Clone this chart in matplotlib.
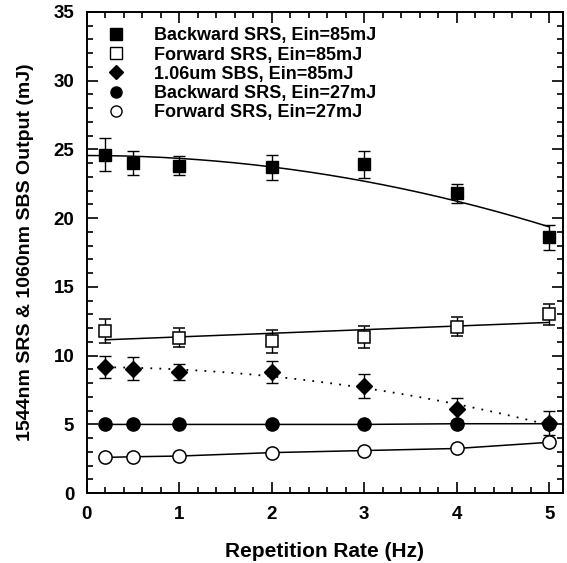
import numpy as np
import matplotlib
matplotlib.use("Agg")
import matplotlib.pyplot as plt
from matplotlib.ticker import MultipleLocator

plt.rcParams['font.family'] = ['Liberation Sans', 'DejaVu Sans']
plt.rcParams['font.weight'] = 'bold'

# repetition rate (Hz)
rate = [0.2, 0.5, 1, 2, 3, 4, 5]

# backward SRS, Ein=85mJ
bsrs85 = [24.6, 24.0, 23.8, 23.7, 23.9, 21.8, 18.6]
bsrs85_err = [1.2, 0.85, 0.7, 0.9, 1.0, 0.7, 0.9]
# forward SRS, Ein=85mJ
fsrs85 = [11.8, 11.3, 11.05, 11.35, 12.1, 13.0]
fsrs85_x = [0.2, 1, 2, 3, 4, 5]
fsrs85_err = [0.9, 0.7, 0.85, 0.8, 0.7, 0.75]
# 1.06um SBS, Ein=85mJ
sbs85 = [9.2, 9.05, 8.8, 8.8, 7.8, 6.1, 5.1]
sbs85_err = [0.8, 0.85, 0.6, 0.8, 0.9, 0.8, 0.9]
# backward SRS, Ein=27mJ
bsrs27 = [5.0, 5.0, 5.0, 5.0, 5.0, 5.05, 5.05]
# forward SRS, Ein=27mJ
fsrs27 = [2.6, 2.65, 2.7, 2.95, 3.1, 3.25, 3.7]

labels = ["Backward SRS, Ein=85mJ", "Forward SRS, Ein=85mJ",
          "1.06um SBS, Ein=85mJ", "Backward SRS, Ein=27mJ",
          "Forward SRS, Ein=27mJ"]


def quad_fit(x, y):
    # least squares fit of y = a + b*x^2
    x = np.asarray(x, float)
    A = np.vstack([np.ones_like(x), x ** 2]).T
    coef, *_ = np.linalg.lstsq(A, np.asarray(y, float), rcond=None)
    return lambda t: coef[0] + coef[1] * t ** 2


fig = plt.figure(figsize=(5.67, 5.63), dpi=100)
ax = fig.add_axes([0.153, 0.124, 0.84, 0.855])

xx = np.linspace(0, 5, 200)
xs = np.linspace(0.2, 5, 200)

# fitted curves
f = quad_fit(rate, bsrs85)
ax.plot(xx, f(xx), color='black', lw=1.1)
p = np.polyfit(fsrs85_x, fsrs85, 1)
ax.plot(xs, np.polyval(p, xs), color='black', lw=1.1)
f = quad_fit(rate, sbs85)
ax.plot(xs, f(xs), color='black', lw=1.3, ls=(0, (1, 4)))
ax.plot(rate, bsrs27, color='black', lw=1.1)
ax.plot(rate, fsrs27, color='black', lw=1.1)

ekw = dict(ecolor='black', elinewidth=1.0, capsize=4, capthick=1.0, ls='none')
ax.errorbar(rate, bsrs85, yerr=bsrs85_err, marker='s', ms=9,
            mfc='black', mec='black', **ekw)
ax.errorbar(fsrs85_x, fsrs85, yerr=fsrs85_err, marker='s', ms=9,
            mfc='white', mec='black', mew=1.1, **ekw)
ax.errorbar(rate, sbs85, yerr=sbs85_err, marker='D', ms=8.5,
            mfc='black', mec='black', **ekw)
ax.plot(rate, bsrs27, ls='none', marker='o', ms=9.5,
        mfc='black', mec='black')
ax.plot(rate, fsrs27, ls='none', marker='o', ms=9.5,
        mfc='white', mec='black', mew=1.1)

lh = [plt.Line2D([], [], ls='none', marker='s', ms=8, mfc='black', mec='black'),
      plt.Line2D([], [], ls='none', marker='s', ms=8, mfc='white', mec='black'),
      plt.Line2D([], [], ls='none', marker='D', ms=7.5, mfc='black', mec='black'),
      plt.Line2D([], [], ls='none', marker='o', ms=8, mfc='black', mec='black'),
      plt.Line2D([], [], ls='none', marker='o', ms=8, mfc='white', mec='black')]
ax.legend(lh, labels, loc='upper left', bbox_to_anchor=(0.0, 0.99),
          frameon=False, fontsize=13, handletextpad=1.1,
          labelspacing=0.12, borderaxespad=0.2)

ax.set_xlim(0, 5.15)
ax.set_ylim(0, 35)
ax.xaxis.set_major_locator(MultipleLocator(1))
ax.xaxis.set_minor_locator(MultipleLocator(0.2))
ax.yaxis.set_major_locator(MultipleLocator(5))
ax.yaxis.set_minor_locator(MultipleLocator(1))
ax.tick_params(which='both', direction='in', top=True, right=True,
               labelsize=13.5, width=1.2)
ax.tick_params(which='major', length=8, pad=9)
ax.tick_params(which='minor', length=4)
for s in ax.spines.values():
    s.set_linewidth(1.4)

ax.set_xlabel("Repetition Rate (Hz)", fontsize=15, fontweight='bold', labelpad=14)
ax.set_ylabel("1544nm SRS & 1060nm SBS Output (mJ)", fontsize=14,
              fontweight='bold', labelpad=14)

fig.savefig("out.png", dpi=100)
